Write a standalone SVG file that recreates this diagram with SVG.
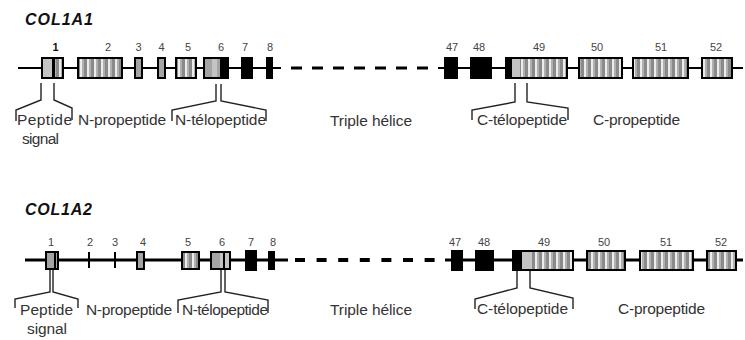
<svg xmlns="http://www.w3.org/2000/svg" width="745" height="340" viewBox="0 0 745 340">
<defs>
<pattern id="str" patternUnits="userSpaceOnUse" x="0" y="0" width="7" height="20">
<rect width="7" height="20" fill="#8a8a8a"/>
<rect x="3" width="2" height="20" fill="#ececec"/>
<rect x="5" width="2" height="20" fill="#b0b0b0"/>
</pattern>
</defs>
<style>
.t{font-family:"Liberation Sans",Arial,sans-serif;font-size:15.5px;fill:#333}
.ttl{font-family:"Liberation Sans",Arial,sans-serif;font-size:16px;font-weight:bold;font-style:italic;fill:#111}
.n{font-family:"Liberation Sans",Arial,sans-serif;font-size:11px;fill:#444;text-anchor:middle}
.ex{stroke:#000;stroke-width:2}
.s{fill:url(#str)}
.g{fill:#a4a4a4}
.lg{fill:#c4c4c4}
.b{fill:#000}
.br{fill:none;stroke:#222;stroke-width:1.4}
.bb{fill:none;stroke:#000;stroke-width:2}
</style>
<rect width="745" height="340" fill="#fff"/>

<g id="connectors">
<line class="bb" x1="18" y1="68" x2="281" y2="68"/>
<line x1="291" y1="68" x2="430" y2="68" stroke="#000" stroke-width="3" stroke-dasharray="11 10"/>
<line class="bb" x1="438" y1="68" x2="743" y2="68"/>
<line x1="25" y1="260" x2="288" y2="260" stroke="#000" stroke-width="3"/>
<line x1="295" y1="260" x2="436" y2="260" stroke="#000" stroke-width="4" stroke-dasharray="10 11.6"/>
<line x1="445" y1="260" x2="743" y2="260" stroke="#000" stroke-width="3"/>
<polyline class="br" points="41,83 41,100 16,110 16,121"/>
<polyline class="br" points="54,83 54,100 72,108 72,120"/>
<polyline class="br" points="216,84 216,101 172,110 172,121"/>
<polyline class="br" points="221,84 221,101 266,110 266,121"/>
<polyline class="br" points="515,83 515,102 472,110 472,120"/>
<polyline class="br" points="527,83 527,102 568,108 568,120"/>
<polyline class="br" points="50,270 50,292 15,299 15,308"/>
<polyline class="br" points="53,270 53,292 78,299 78,308"/>
<polyline class="br" points="221,269 221,292 178,300 178,313"/>
<polyline class="br" points="225,269 225,292 268,300 268,313"/>
<polyline class="br" points="517,270 517,288 475,299 475,309"/>
<polyline class="br" points="530,270 530,288 573,298 573,309"/>
</g>

<g id="titles">
<text class="ttl" x="25" y="25" textLength="68">COL1A1</text>
<text class="ttl" x="25" y="215" textLength="67">COL1A2</text>
</g>

<g id="col1a1-exons">
<g id="a1-e1"><rect class="ex s" x="42" y="58" width="21" height="20"/><rect class="lg" x="43" y="59" width="9" height="18"/><rect class="b" x="52" y="58" width="3" height="20"/></g>
<g id="a1-e2"><rect class="ex s" x="78" y="58" width="44" height="20"/></g>
<g id="a1-e3"><rect class="ex g" x="135" y="58" width="7" height="20"/></g>
<g id="a1-e4"><rect class="ex g" x="158" y="58" width="7" height="20"/></g>
<g id="a1-e5"><rect class="ex s" x="176" y="58" width="20" height="20"/></g>
<g id="a1-e6"><rect class="ex g" x="204" y="58" width="24" height="20"/><rect class="lg" x="212" y="59" width="5" height="18"/><rect class="b" x="220" y="58" width="8" height="20"/></g>
<g id="a1-e7"><rect class="ex b" x="242" y="58" width="10" height="20"/></g>
<g id="a1-e8"><rect class="ex b" x="267" y="58" width="5" height="20"/></g>
<g id="a1-e47"><rect class="ex b" x="445" y="58" width="12" height="20"/></g>
<g id="a1-e48"><rect class="ex b" x="471" y="58" width="20" height="20"/></g>
<g id="a1-e49"><rect class="ex s" x="506" y="58" width="61" height="20"/><rect class="lg" x="512" y="59" width="8" height="18"/><rect class="b" x="506" y="58" width="6" height="20"/></g>
<g id="a1-e50"><rect class="ex s" x="579" y="58" width="43" height="20"/></g>
<g id="a1-e51"><rect class="ex s" x="633" y="58" width="55" height="20"/></g>
<g id="a1-e52"><rect class="ex s" x="702" y="58" width="30" height="20"/></g>
</g>

<g id="col1a1-numbers">
<text class="n" x="55.5" y="51" style="font-weight:bold;fill:#111">1</text>
<text class="n" x="108" y="51">2</text>
<text class="n" x="138.5" y="51">3</text>
<text class="n" x="161.5" y="51">4</text>
<text class="n" x="188" y="51">5</text>
<text class="n" x="221" y="51">6</text>
<text class="n" x="245" y="51">7</text>
<text class="n" x="270" y="51">8</text>
<text class="n" x="452" y="51">47</text>
<text class="n" x="479" y="51">48</text>
<text class="n" x="539" y="51">49</text>
<text class="n" x="597" y="51">50</text>
<text class="n" x="661" y="51">51</text>
<text class="n" x="716" y="51">52</text>
</g>

<g id="col1a1-labels">
<text class="t" x="17" y="125" textLength="55">Peptide</text>
<text class="t" x="22" y="144" textLength="37">signal</text>
<text class="t" x="78" y="125" textLength="88">N-propeptide</text>
<text class="t" x="175" y="125" textLength="91">N-télopeptide</text>
<text class="t" x="330" y="126" textLength="82">Triple hélice</text>
<text class="t" x="477" y="125" textLength="90">C-télopeptide</text>
<text class="t" x="593" y="125" textLength="87">C-propeptide</text>
</g>

<g id="col1a2-exons">
<g id="a2-e1"><rect class="ex g" x="46" y="252" width="12" height="17"/><rect class="b" x="54" y="252" width="2" height="17"/></g>
<g id="a2-e2"><line x1="89" y1="252" x2="89" y2="268" stroke="#000" stroke-width="2"/></g>
<g id="a2-e3"><line x1="115" y1="252" x2="115" y2="268" stroke="#000" stroke-width="2"/></g>
<g id="a2-e4"><rect class="ex g" x="137" y="252" width="7" height="17"/></g>
<g id="a2-e5"><rect class="ex s" x="182" y="252" width="17" height="17"/></g>
<g id="a2-e6"><rect class="ex g" x="211" y="252" width="19" height="17"/><rect class="lg" x="220" y="253" width="3" height="15"/><rect class="b" x="223" y="252" width="2" height="17"/><rect class="lg" x="225" y="253" width="4" height="15"/></g>
<g id="a2-e7"><rect class="ex b" x="246" y="251" width="10" height="19"/></g>
<g id="a2-e8"><rect class="ex b" x="269" y="252" width="5" height="17"/></g>
<g id="a2-e47"><rect class="ex b" x="452" y="251" width="10" height="19"/></g>
<g id="a2-e48"><rect class="ex b" x="476" y="251" width="17" height="19"/></g>
<g id="a2-e49"><rect class="ex s" x="513" y="251" width="60" height="19"/><rect class="lg" x="522" y="252" width="10" height="17"/><rect class="b" x="513" y="251" width="9" height="19"/></g>
<g id="a2-e50"><rect class="ex s" x="587" y="251" width="38" height="19"/></g>
<g id="a2-e51"><rect class="ex s" x="640" y="251" width="53" height="19"/></g>
<g id="a2-e52"><rect class="ex s" x="707" y="251" width="29" height="19"/></g>
</g>

<g id="col1a2-numbers">
<text class="n" x="51" y="246">1</text>
<text class="n" x="90" y="246">2</text>
<text class="n" x="115" y="246">3</text>
<text class="n" x="143" y="246">4</text>
<text class="n" x="188" y="246">5</text>
<text class="n" x="222" y="246">6</text>
<text class="n" x="251" y="246">7</text>
<text class="n" x="273" y="246">8</text>
<text class="n" x="455" y="246">47</text>
<text class="n" x="484" y="246">48</text>
<text class="n" x="544" y="246">49</text>
<text class="n" x="604" y="246">50</text>
<text class="n" x="666" y="246">51</text>
<text class="n" x="721" y="246">52</text>
</g>

<g id="col1a2-labels">
<text class="t" x="20" y="315" textLength="53">Peptide</text>
<text class="t" x="27" y="334" textLength="40">signal</text>
<text class="t" x="86" y="315" textLength="86">N-propeptide</text>
<text class="t" x="182" y="315" textLength="86">N-télopeptide</text>
<text class="t" x="330" y="315" textLength="82">Triple hélice</text>
<text class="t" x="477" y="314" textLength="91">C-télopeptide</text>
<text class="t" x="618" y="314" textLength="87">C-propeptide</text>
</g>
</svg>
